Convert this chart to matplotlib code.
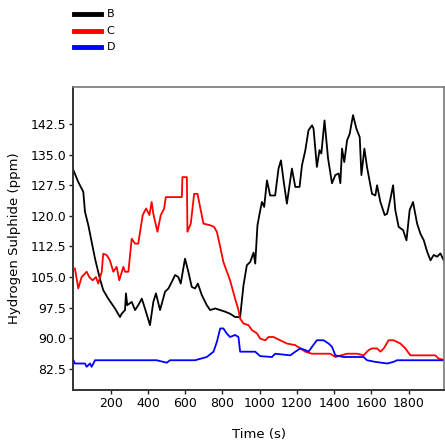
import matplotlib
matplotlib.use("Agg")
import matplotlib.pyplot as plt
from matplotlib.lines import Line2D

plt.rcParams['font.family'] = ['DejaVu Sans']

# Series B (black)
b_t = [0, 26, 53, 62, 80, 98, 116, 142, 160, 187, 223, 250, 259, 277, 282, 289, 313, 331, 348, 367,
       384, 411, 429, 443, 465, 492, 510, 528, 546, 563, 576, 599, 617, 635, 653, 668, 689, 716, 734,
       761, 788, 815, 841, 868, 895, 913, 931, 949, 967, 976, 988, 1003, 1012, 1024, 1039, 1056, 1083,
       1101, 1114, 1128, 1146, 1173, 1191, 1214, 1227, 1245, 1262, 1281, 1289, 1307, 1321, 1331, 1348,
       1367, 1388, 1406, 1424, 1433, 1442, 1454, 1469, 1483, 1501, 1519, 1537, 1546, 1562, 1576, 1603,
       1621, 1630, 1648, 1671, 1684, 1702, 1716, 1728, 1746, 1770, 1788, 1805, 1823, 1845, 1863, 1881,
       1899, 1917, 1934, 1953, 1970, 1988]
b_v = [131.2, 128.3, 125.9, 121.0, 117.7, 113.6, 109.5, 104.6, 101.8, 99.7, 97.3, 95.2, 96.0, 96.9, 101.0,
       98.1, 98.9, 96.9, 98.1, 99.7, 97.3, 93.2, 98.9, 101.0, 96.9, 101.4, 102.2, 103.8, 105.5, 105.0,
       103.4, 109.5, 106.3, 102.6, 102.2, 103.4, 100.6, 98.1, 96.9, 97.3, 96.9, 96.5, 96.0, 95.2, 95.2,
       103.0, 107.9, 108.7, 111.0, 108.3, 117.7, 121.4, 123.4, 122.2, 128.7, 125.0, 125.0, 131.6, 133.6,
       128.7, 123.0, 131.6, 127.1, 127.1, 132.4, 136.1, 141.0, 142.2, 141.4, 132.0, 136.1, 135.3, 143.4,
       134.1, 128.0, 130.0, 130.4, 128.0, 136.5, 133.2, 138.5, 140.1, 144.7, 141.4, 139.3, 130.0, 136.5,
       132.0, 125.4, 125.0, 127.5, 123.4, 120.2, 120.5, 124.2, 127.5, 121.4, 117.3, 116.5, 114.0, 121.4,
       123.4, 118.1, 115.6, 114.0, 111.2, 109.1, 110.4, 110.0, 110.8, 109.1]

# Series C (red)
c_t = [8, 26, 44, 71, 85, 103, 121, 133, 152, 160, 178, 196, 214, 232, 246, 268, 277, 295, 313, 331,
       348, 372, 390, 408, 420, 429, 451, 469, 487, 496, 582, 585, 609, 612, 630, 648, 666, 680, 698,
       734, 755, 770, 788, 805, 824, 841, 868, 886, 895, 913, 940, 958, 985, 1003, 1030, 1047, 1074,
       1110, 1146, 1191, 1218, 1245, 1281, 1379, 1406, 1469, 1523, 1558, 1585, 1603, 1630, 1648, 1666,
       1692, 1719, 1755, 1782, 1809, 1943, 1961, 1997]
c_v = [107.1, 102.2, 105.0, 106.3, 105.0, 104.2, 105.0, 103.4, 106.3, 110.7, 110.4, 109.1, 106.3, 107.5,
       104.2, 107.5, 106.3, 106.3, 114.4, 113.2, 113.2, 120.2, 121.8, 120.2, 123.4, 120.5, 116.1, 120.2,
       121.8, 124.6, 124.6, 129.5, 129.5, 116.1, 118.1, 125.4, 125.4, 122.2, 118.1, 117.7, 117.3, 116.1,
       112.4, 108.7, 106.3, 104.2, 99.7, 96.9, 94.8, 93.6, 93.2, 92.0, 91.2, 89.9, 89.5, 90.3, 90.3,
       89.5, 88.7, 88.3, 87.5, 86.7, 86.2, 86.2, 85.4, 86.2, 86.2, 85.8, 87.1, 87.5, 87.5, 86.7, 87.5,
       89.5, 89.5, 88.7, 87.5, 85.8, 85.8, 85.0, 84.6]

# Series D (blue)
d_t = [0, 8, 62, 71, 89, 98, 116, 447, 501, 519, 653, 716, 752, 770, 788, 805, 824, 841, 868, 886,
       895, 976, 1003, 1066, 1083, 1164, 1191, 1218, 1245, 1262, 1281, 1307, 1343, 1370, 1388, 1406,
       1450, 1558, 1576, 1621, 1684, 1719, 1737, 1997]
d_v = [84.6, 83.8, 83.8, 83.0, 83.8, 83.0, 84.6, 84.6, 84.0, 84.6, 84.6, 85.4, 86.7, 89.1, 92.4, 92.4,
       91.1, 90.3, 90.8, 90.3, 86.7, 86.7, 85.6, 85.4, 86.2, 85.8, 86.7, 87.5, 87.1, 86.7, 87.9, 89.5,
       89.5, 88.7, 87.9, 85.8, 85.4, 85.4, 84.6, 84.2, 83.8, 84.2, 84.6, 84.6]

labels = ['B', 'C', 'D']
colors = ['#000000', '#ff0000', '#0000ff']

x_ticks = [200, 400, 600, 800, 1000, 1200, 1400, 1600, 1800]
y_ticks = [82.5, 90.0, 97.5, 105.0, 112.5, 120.0, 127.5, 135.0, 142.5]

W, H = 445, 443
fig = plt.figure(figsize=(W / 100, H / 100), dpi=100)
ax = fig.add_axes([0.165, 0.1196, 0.833, 0.684])

for t, v, c in zip([b_t, c_t, d_t], [b_v, c_v, d_v], colors):
    ax.plot(t, v, color=c, lw=1.3)

ax.set_xlim(0, 1990)
ax.set_ylim(77.3, 151.6)
ax.set_xticks(x_ticks)
ax.set_xticklabels([str(x) for x in x_ticks])
ax.set_yticks(y_ticks)
ax.set_yticklabels([f"{y:.1f}" for y in y_ticks])
ax.tick_params(axis='both', direction='out', length=3, width=1, labelsize=9, pad=2,
               top=False, right=False, colors='#222222', labelcolor='black')
for s in ['left', 'bottom']:
    ax.spines[s].set_linewidth(1.4)
    ax.spines[s].set_color('#333333')
for s in ['top', 'right']:
    ax.spines[s].set_linewidth(1.2)
    ax.spines[s].set_color('#777777')

ax.set_xlabel('Time (s)', fontsize=9.5)
ax.set_ylabel('Hydrogen Sulphide (ppm)', fontsize=9.5)
ax.xaxis.set_label_coords(0.5, -0.125)
ax.yaxis.set_label_coords(-0.142, 0.5)

# legend drawn in figure pixel coordinates (top-left)
ys = [14, 30.7, 46.7]
for lab, c, y in zip(labels, colors, ys):
    fig.add_artist(Line2D([74 / W, 101 / W], [1 - y / H, 1 - y / H], color=c, lw=3.5,
                          transform=fig.transFigure))
    fig.text(106.5 / W, 1 - y / H, lab, fontsize=8, va='center', ha='left')

fig.savefig('out.png', dpi=100)
